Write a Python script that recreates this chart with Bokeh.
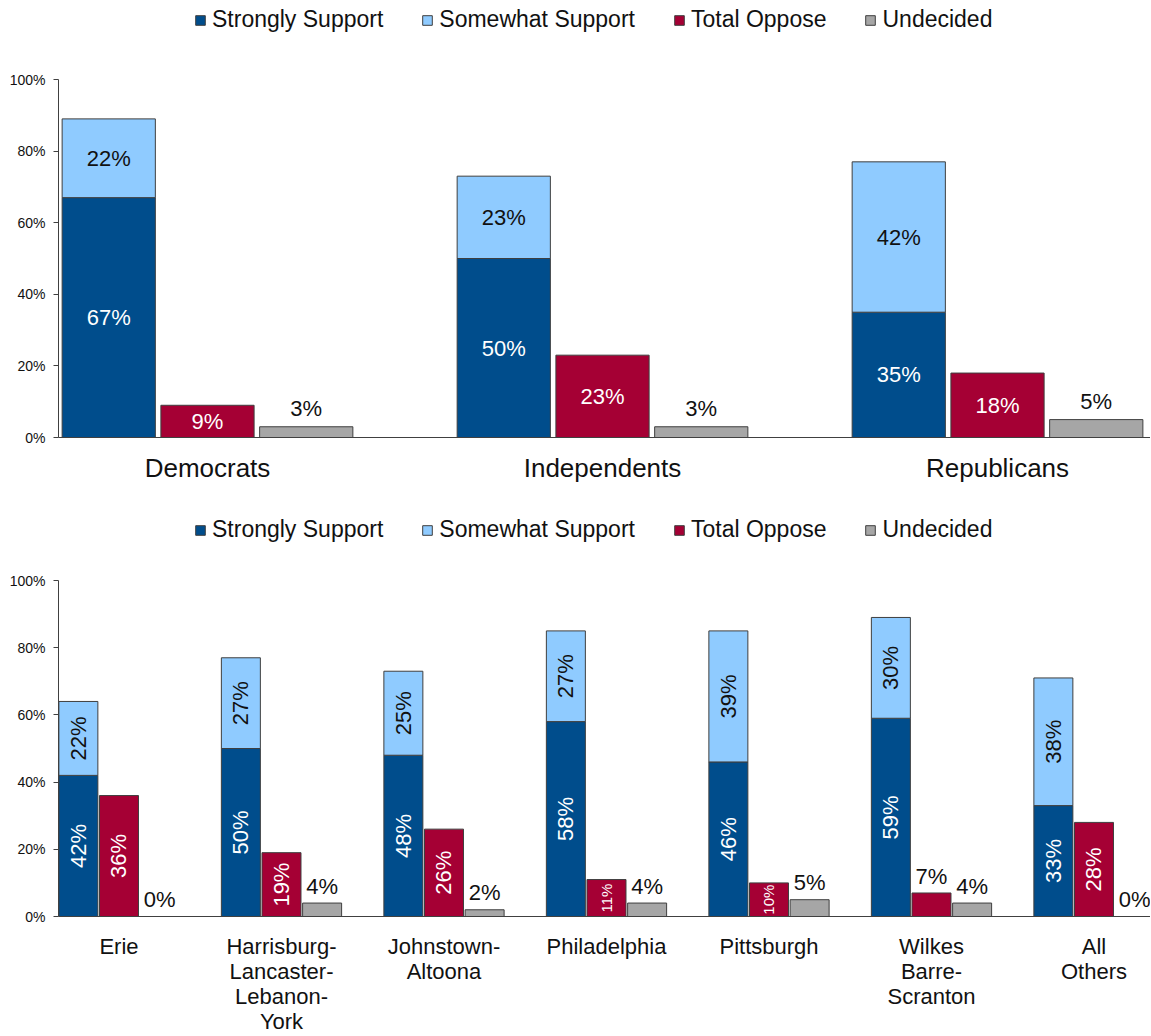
import math
from bokeh.plotting import figure
from bokeh.models import (ColumnDataSource, Range1d, FixedTicker, Legend, LegendItem)
from bokeh.layouts import column
from bokeh.embed import file_html
from bokeh.resources import INLINE
from bokeh.core.properties import value

FONT = "Liberation Sans"

# ---------------- data ----------------
series_names = ["Strongly Support", "Somewhat Support", "Total Oppose", "Undecided"]
tick_values = [0, 20, 40, 60, 80, 100]
tick_labels = ["0%", "20%", "40%", "60%", "80%", "100%"]

party_categories = ["Democrats", "Independents", "Republicans"]
party_strongly = [67, 50, 35]
party_somewhat = [22, 23, 42]
party_oppose = [9, 23, 18]
party_undecided = [3, 3, 5]

market_categories = ["Erie", "Harrisburg-\nLancaster-\nLebanon-\nYork", "Johnstown-\nAltoona",
                     "Philadelphia", "Pittsburgh", "Wilkes\nBarre-\nScranton", "All\nOthers"]
market_strongly = [42, 50, 48, 58, 46, 59, 33]
market_somewhat = [22, 27, 25, 27, 39, 30, 38]
market_oppose = [36, 19, 26, 11, 10, 7, 28]
market_undecided = [0, 4, 2, 4, 5, 4, 0]

COLORS = ["#004D8C", "#8FCBFF", "#A50034", "#A6A6A6"]
OUTLINE = "#3F3F3F"
AXIS = "#404040"
TEXT = "#111111"

FIG_W = 1150


def make_chart(cats, s, w, o, u, height, border_bottom, y_max, x_range, bar_w, off,
               cat_font, cat_standoff, legend_loc, rotated):
    n = len(cats)
    idx = list(range(n))
    p = figure(width=FIG_W, height=height, output_backend="svg", toolbar_location=None,
               x_range=Range1d(*x_range), y_range=Range1d(0, y_max),
               min_border_left=58, min_border_right=0, min_border_top=0,
               min_border_bottom=border_bottom)
    p.outline_line_color = None
    p.grid.grid_line_color = None
    p.background_fill_color = "white"

    xs = [i - off for i in idx]
    xo = list(idx)
    xu = [i + off for i in idx]
    sw = [a + b for a, b in zip(s, w)]
    src = ColumnDataSource(dict(xs=xs, xo=xo, xu=xu, s=s, w=w, sw=sw, o=o, u=u, zero=[0] * n))
    r1 = p.vbar(x="xs", bottom="zero", top="s", width=bar_w, source=src,
                fill_color=COLORS[0], line_color=OUTLINE, line_width=1)
    r2 = p.vbar(x="xs", bottom="s", top="sw", width=bar_w, source=src,
                fill_color=COLORS[1], line_color=OUTLINE, line_width=1)
    r3 = p.vbar(x="xo", bottom="zero", top="o", width=bar_w, source=src,
                fill_color=COLORS[2], line_color=OUTLINE, line_width=1)
    r4 = p.vbar(x="xu", bottom="zero", top="u", width=bar_w, source=src,
                fill_color=COLORS[3], line_color=OUTLINE, line_width=1)

    # data labels
    lx, ly, lt, lc, la, lf = [], [], [], [], [], []
    ang = math.pi / 2 if rotated else 0.0

    def add(x, y, t, c, a, f):
        lx.append(x); ly.append(y); lt.append(t); lc.append(c); la.append(a); lf.append(f)

    for i in idx:
        add(xs[i], s[i] / 2, f"{s[i]}%", "white", ang, "22px")
        add(xs[i], s[i] + w[i] / 2, f"{w[i]}%", TEXT, ang, "22px")
        if not rotated:
            add(xo[i], o[i] / 2, f"{o[i]}%", "white", 0.0, "22px")
        elif o[i] >= 10:
            add(xo[i], o[i] / 2, f"{o[i]}%", "white", ang, "15px" if o[i] < 15 else "22px")
        else:
            add(xo[i], o[i] + 5, f"{o[i]}%", TEXT, 0.0, "22px")
        add(xu[i], u[i] + 5, f"{u[i]}%", TEXT, 0.0, "22px")

    lsrc = ColumnDataSource(dict(x=lx, y=ly, t=lt, c=lc, a=la, f=lf))
    p.text(x="x", y="y", text="t", angle="a", text_color="c", text_font_size="f",
           text_font=value(FONT), text_align="center", text_baseline="middle", source=lsrc)

    # y axis
    ya = p.yaxis[0]
    ya.ticker = FixedTicker(ticks=tick_values)
    ya.major_label_overrides = {v: l for v, l in zip(tick_values, tick_labels)}
    ya.bounds = (0, 100)
    ya.major_tick_in = 0
    ya.major_tick_out = 5
    ya.minor_tick_line_color = None
    ya.axis_line_color = AXIS
    ya.major_tick_line_color = AXIS
    ya.major_label_text_font = FONT
    ya.major_label_text_font_size = "14px"
    ya.major_label_text_color = TEXT
    ya.major_label_standoff = 8

    # x axis
    xa = p.xaxis[0]
    xa.ticker = FixedTicker(ticks=idx)
    xa.major_label_overrides = {i: c for i, c in enumerate(cats)}
    xa.major_tick_line_color = None
    xa.minor_tick_line_color = None
    xa.axis_line_color = AXIS
    xa.major_label_text_font = FONT
    xa.major_label_text_font_size = cat_font
    xa.major_label_text_color = TEXT
    xa.major_label_standoff = cat_standoff
    xa.major_label_text_line_height = 1.0

    legend = Legend(items=[LegendItem(label=nm, renderers=[r]) for nm, r in zip(series_names, [r1, r2, r3, r4])],
                    location=legend_loc, orientation="horizontal", margin=0, padding=0,
                    spacing=38, label_standoff=6, glyph_width=12, glyph_height=12,
                    label_text_font=FONT, label_text_font_size="23px", label_text_color=TEXT,
                    border_line_color=None, background_fill_alpha=0)
    p.add_layout(legend)
    return p


top = make_chart(party_categories, party_strongly, party_somewhat, party_oppose, party_undecided,
                 height=497, border_bottom=60, y_max=437 / 3.58, x_range=(-0.3772, 2.3873),
                 bar_w=0.236, off=0.25, cat_font="26px", cat_standoff=9,
                 legend_loc=(136, 404), rotated=False)
bottom = make_chart(market_categories, market_strongly, market_somewhat, market_oppose, market_undecided,
                    height=539, border_bottom=120, y_max=419 / 3.36, x_range=(-0.3723, 6.3477),
                    bar_w=0.24, off=0.25, cat_font="22px", cat_standoff=11,
                    legend_loc=(136, 373), rotated=True)

layout = column(top, bottom, spacing=0)
open("out.html", "w").write(file_html(layout, INLINE))
